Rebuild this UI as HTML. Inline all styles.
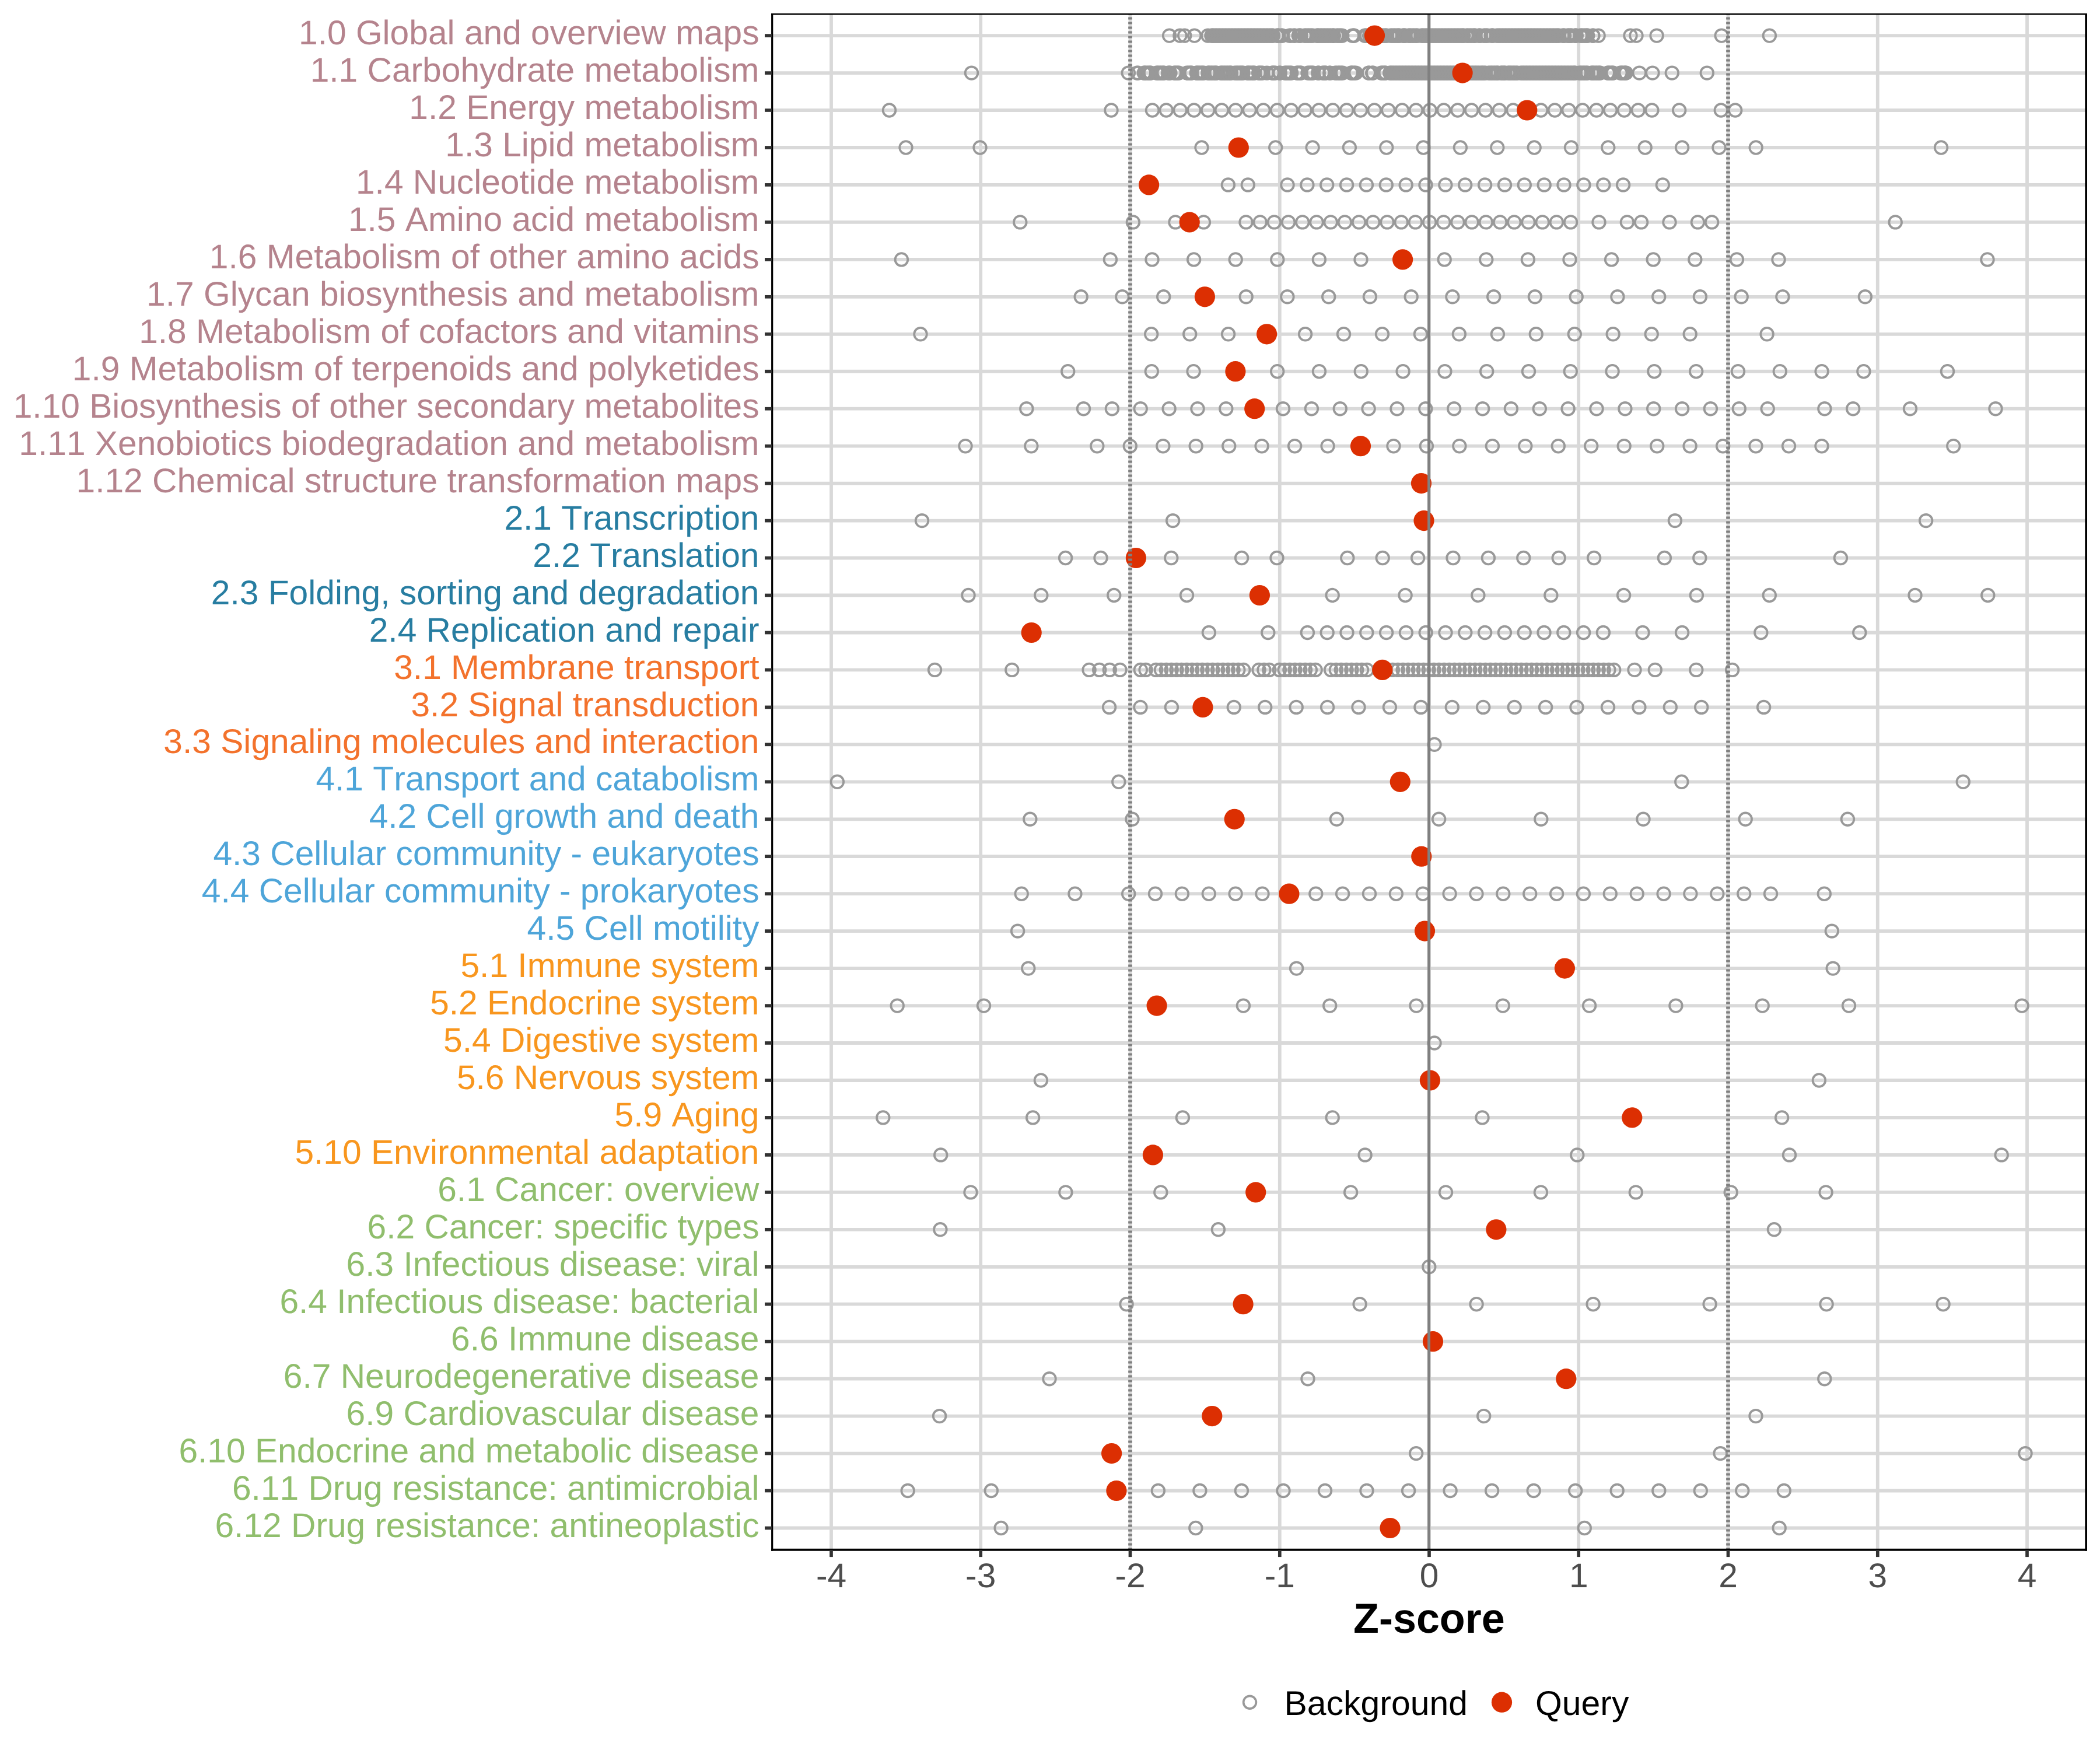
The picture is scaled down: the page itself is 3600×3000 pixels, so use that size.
<!DOCTYPE html>
<html lang="en"><head><meta charset="utf-8"><title>Z-score by KEGG pathway class</title>
<style>
html,body{margin:0;padding:0;background:#fff}
body{width:3600px;height:3000px;overflow:hidden}
svg{display:block}
text{font-family:"Liberation Sans",sans-serif;font-kerning:none;font-variant-ligatures:none;text-rendering:geometricPrecision}
.yl{font-size:58.70px;text-anchor:end}
.xl{font-size:58.70px;text-anchor:middle;fill:#4D4D4D}
.ti{font-size:71.90px;font-weight:bold;text-anchor:middle;fill:#000}
.lg{font-size:58.90px;fill:#000}
.g circle{fill:none;stroke:#999999;stroke-width:3.75}
.q circle{fill:#DC2F02}
.gr line{stroke:#D9D9D9;stroke-width:5.8}
.tk line{stroke:#333333;stroke-width:5.7}
</style></head><body>
<svg width="3600" height="3000" viewBox="0 0 3600 3000">
<rect x="0" y="0" width="3600" height="3000" fill="#FFFFFF"/>
<defs><clipPath id="pc"><rect x="1322.1" y="23" width="2255.9" height="2635.7"/></clipPath></defs>
<g>
<text class="yl" x="1301.5" y="76.2" fill="#B5838D">1.0 Global and overview maps</text>
<text class="yl" x="1301.5" y="140.2" fill="#B5838D">1.1 Carbohydrate metabolism</text>
<text class="yl" x="1301.5" y="204.1" fill="#B5838D">1.2 Energy metabolism</text>
<text class="yl" x="1301.5" y="268.1" fill="#B5838D">1.3 Lipid metabolism</text>
<text class="yl" x="1301.5" y="332" fill="#B5838D">1.4 Nucleotide metabolism</text>
<text class="yl" x="1301.5" y="396" fill="#B5838D">1.5 Amino acid metabolism</text>
<text class="yl" x="1301.5" y="460" fill="#B5838D">1.6 Metabolism of other amino acids</text>
<text class="yl" x="1301.5" y="523.9" fill="#B5838D">1.7 Glycan biosynthesis and metabolism</text>
<text class="yl" x="1301.5" y="587.9" fill="#B5838D">1.8 Metabolism of cofactors and vitamins</text>
<text class="yl" x="1301.5" y="651.8" fill="#B5838D">1.9 Metabolism of terpenoids and polyketides</text>
<text class="yl" x="1301.5" y="715.8" fill="#B5838D">1.10 Biosynthesis of other secondary metabolites</text>
<text class="yl" x="1301.5" y="779.8" fill="#B5838D">1.11 Xenobiotics biodegradation and metabolism</text>
<text class="yl" x="1301.5" y="843.7" fill="#B5838D">1.12 Chemical structure transformation maps</text>
<text class="yl" x="1301.5" y="907.7" fill="#277DA1">2.1 Transcription</text>
<text class="yl" x="1301.5" y="971.6" fill="#277DA1">2.2 Translation</text>
<text class="yl" x="1301.5" y="1035.6" fill="#277DA1">2.3 Folding, sorting and degradation</text>
<text class="yl" x="1301.5" y="1099.6" fill="#277DA1">2.4 Replication and repair</text>
<text class="yl" x="1301.5" y="1163.5" fill="#F3722C">3.1 Membrane transport</text>
<text class="yl" x="1301.5" y="1227.5" fill="#F3722C">3.2 Signal transduction</text>
<text class="yl" x="1301.5" y="1291.4" fill="#F3722C">3.3 Signaling molecules and interaction</text>
<text class="yl" x="1301.5" y="1355.4" fill="#4EA5D9">4.1 Transport and catabolism</text>
<text class="yl" x="1301.5" y="1419.4" fill="#4EA5D9">4.2 Cell growth and death</text>
<text class="yl" x="1301.5" y="1483.3" fill="#4EA5D9">4.3 Cellular community - eukaryotes</text>
<text class="yl" x="1301.5" y="1547.3" fill="#4EA5D9">4.4 Cellular community - prokaryotes</text>
<text class="yl" x="1301.5" y="1611.2" fill="#4EA5D9">4.5 Cell motility</text>
<text class="yl" x="1301.5" y="1675.2" fill="#F8961E">5.1 Immune system</text>
<text class="yl" x="1301.5" y="1739.2" fill="#F8961E">5.2 Endocrine system</text>
<text class="yl" x="1301.5" y="1803.1" fill="#F8961E">5.4 Digestive system</text>
<text class="yl" x="1301.5" y="1867.1" fill="#F8961E">5.6 Nervous system</text>
<text class="yl" x="1301.5" y="1931" fill="#F8961E">5.9 Aging</text>
<text class="yl" x="1301.5" y="1995" fill="#F8961E">5.10 Environmental adaptation</text>
<text class="yl" x="1301.5" y="2059" fill="#90BE6D">6.1 Cancer: overview</text>
<text class="yl" x="1301.5" y="2122.9" fill="#90BE6D">6.2 Cancer: specific types</text>
<text class="yl" x="1301.5" y="2186.9" fill="#90BE6D">6.3 Infectious disease: viral</text>
<text class="yl" x="1301.5" y="2250.8" fill="#90BE6D">6.4 Infectious disease: bacterial</text>
<text class="yl" x="1301.5" y="2314.8" fill="#90BE6D">6.6 Immune disease</text>
<text class="yl" x="1301.5" y="2378.8" fill="#90BE6D">6.7 Neurodegenerative disease</text>
<text class="yl" x="1301.5" y="2442.7" fill="#90BE6D">6.9 Cardiovascular disease</text>
<text class="yl" x="1301.5" y="2506.7" fill="#90BE6D">6.10 Endocrine and metabolic disease</text>
<text class="yl" x="1301.5" y="2570.6" fill="#90BE6D">6.11 Drug resistance: antimicrobial</text>
<text class="yl" x="1301.5" y="2634.6" fill="#90BE6D">6.12 Drug resistance: antineoplastic</text>
</g>
<g clip-path="url(#pc)">
<g class="gr">
<line x1="1425" y1="23" x2="1425" y2="2658.7"/>
<line x1="1681.2" y1="23" x2="1681.2" y2="2658.7"/>
<line x1="1937.5" y1="23" x2="1937.5" y2="2658.7"/>
<line x1="2193.8" y1="23" x2="2193.8" y2="2658.7"/>
<line x1="2450" y1="23" x2="2450" y2="2658.7"/>
<line x1="2706.2" y1="23" x2="2706.2" y2="2658.7"/>
<line x1="2962.5" y1="23" x2="2962.5" y2="2658.7"/>
<line x1="3218.8" y1="23" x2="3218.8" y2="2658.7"/>
<line x1="3475" y1="23" x2="3475" y2="2658.7"/>
<line x1="1322.1" y1="61.1" x2="3578" y2="61.1"/>
<line x1="1322.1" y1="125.1" x2="3578" y2="125.1"/>
<line x1="1322.1" y1="189" x2="3578" y2="189"/>
<line x1="1322.1" y1="253" x2="3578" y2="253"/>
<line x1="1322.1" y1="316.9" x2="3578" y2="316.9"/>
<line x1="1322.1" y1="380.9" x2="3578" y2="380.9"/>
<line x1="1322.1" y1="444.9" x2="3578" y2="444.9"/>
<line x1="1322.1" y1="508.8" x2="3578" y2="508.8"/>
<line x1="1322.1" y1="572.8" x2="3578" y2="572.8"/>
<line x1="1322.1" y1="636.7" x2="3578" y2="636.7"/>
<line x1="1322.1" y1="700.7" x2="3578" y2="700.7"/>
<line x1="1322.1" y1="764.7" x2="3578" y2="764.7"/>
<line x1="1322.1" y1="828.6" x2="3578" y2="828.6"/>
<line x1="1322.1" y1="892.6" x2="3578" y2="892.6"/>
<line x1="1322.1" y1="956.5" x2="3578" y2="956.5"/>
<line x1="1322.1" y1="1020.5" x2="3578" y2="1020.5"/>
<line x1="1322.1" y1="1084.5" x2="3578" y2="1084.5"/>
<line x1="1322.1" y1="1148.4" x2="3578" y2="1148.4"/>
<line x1="1322.1" y1="1212.4" x2="3578" y2="1212.4"/>
<line x1="1322.1" y1="1276.3" x2="3578" y2="1276.3"/>
<line x1="1322.1" y1="1340.3" x2="3578" y2="1340.3"/>
<line x1="1322.1" y1="1404.3" x2="3578" y2="1404.3"/>
<line x1="1322.1" y1="1468.2" x2="3578" y2="1468.2"/>
<line x1="1322.1" y1="1532.2" x2="3578" y2="1532.2"/>
<line x1="1322.1" y1="1596.1" x2="3578" y2="1596.1"/>
<line x1="1322.1" y1="1660.1" x2="3578" y2="1660.1"/>
<line x1="1322.1" y1="1724.1" x2="3578" y2="1724.1"/>
<line x1="1322.1" y1="1788" x2="3578" y2="1788"/>
<line x1="1322.1" y1="1852" x2="3578" y2="1852"/>
<line x1="1322.1" y1="1915.9" x2="3578" y2="1915.9"/>
<line x1="1322.1" y1="1979.9" x2="3578" y2="1979.9"/>
<line x1="1322.1" y1="2043.9" x2="3578" y2="2043.9"/>
<line x1="1322.1" y1="2107.8" x2="3578" y2="2107.8"/>
<line x1="1322.1" y1="2171.8" x2="3578" y2="2171.8"/>
<line x1="1322.1" y1="2235.7" x2="3578" y2="2235.7"/>
<line x1="1322.1" y1="2299.7" x2="3578" y2="2299.7"/>
<line x1="1322.1" y1="2363.7" x2="3578" y2="2363.7"/>
<line x1="1322.1" y1="2427.6" x2="3578" y2="2427.6"/>
<line x1="1322.1" y1="2491.6" x2="3578" y2="2491.6"/>
<line x1="1322.1" y1="2555.5" x2="3578" y2="2555.5"/>
<line x1="1322.1" y1="2619.5" x2="3578" y2="2619.5"/>
</g>
<g class="g">
<g><circle cx="2004.6" cy="61.1" r="10.83"/><circle cx="2022.9" cy="61.1" r="10.83"/><circle cx="2030.7" cy="61.1" r="10.83"/><circle cx="2047.6" cy="61.1" r="10.83"/><circle cx="2070.8" cy="61.1" r="10.83"/><circle cx="2076.9" cy="61.1" r="10.83"/><circle cx="2078.3" cy="61.1" r="10.83"/><circle cx="2080.8" cy="61.1" r="10.83"/><circle cx="2083.3" cy="61.1" r="10.83"/><circle cx="2085.8" cy="61.1" r="10.83"/><circle cx="2088.3" cy="61.1" r="10.83"/><circle cx="2090.8" cy="61.1" r="10.83"/><circle cx="2093.3" cy="61.1" r="10.83"/><circle cx="2095.8" cy="61.1" r="10.83"/><circle cx="2098.3" cy="61.1" r="10.83"/><circle cx="2100.8" cy="61.1" r="10.83"/><circle cx="2103.3" cy="61.1" r="10.83"/><circle cx="2105.8" cy="61.1" r="10.83"/><circle cx="2108.3" cy="61.1" r="10.83"/><circle cx="2110.8" cy="61.1" r="10.83"/><circle cx="2113.3" cy="61.1" r="10.83"/><circle cx="2115.8" cy="61.1" r="10.83"/><circle cx="2118.3" cy="61.1" r="10.83"/><circle cx="2120.8" cy="61.1" r="10.83"/><circle cx="2123.3" cy="61.1" r="10.83"/><circle cx="2125.8" cy="61.1" r="10.83"/><circle cx="2128.3" cy="61.1" r="10.83"/><circle cx="2130.8" cy="61.1" r="10.83"/><circle cx="2133.3" cy="61.1" r="10.83"/><circle cx="2135.8" cy="61.1" r="10.83"/><circle cx="2138.3" cy="61.1" r="10.83"/><circle cx="2140.8" cy="61.1" r="10.83"/><circle cx="2143.3" cy="61.1" r="10.83"/><circle cx="2145.8" cy="61.1" r="10.83"/><circle cx="2148.3" cy="61.1" r="10.83"/><circle cx="2150.8" cy="61.1" r="10.83"/><circle cx="2153.3" cy="61.1" r="10.83"/><circle cx="2155.8" cy="61.1" r="10.83"/><circle cx="2158.3" cy="61.1" r="10.83"/><circle cx="2160.8" cy="61.1" r="10.83"/><circle cx="2163.3" cy="61.1" r="10.83"/><circle cx="2165.8" cy="61.1" r="10.83"/><circle cx="2168.3" cy="61.1" r="10.83"/><circle cx="2170.8" cy="61.1" r="10.83"/><circle cx="2173.3" cy="61.1" r="10.83"/><circle cx="2175.8" cy="61.1" r="10.83"/><circle cx="2178.3" cy="61.1" r="10.83"/><circle cx="2180.8" cy="61.1" r="10.83"/><circle cx="2182.3" cy="61.1" r="10.83"/><circle cx="2189" cy="61.1" r="10.83"/><circle cx="2190.8" cy="61.1" r="10.83"/><circle cx="2191.6" cy="61.1" r="10.83"/><circle cx="2196.8" cy="61.1" r="10.83"/><circle cx="2198" cy="61.1" r="10.83"/><circle cx="2210.6" cy="61.1" r="10.83"/><circle cx="2213.2" cy="61.1" r="10.83"/><circle cx="2218.4" cy="61.1" r="10.83"/><circle cx="2219.6" cy="61.1" r="10.83"/><circle cx="2226.3" cy="61.1" r="10.83"/><circle cx="2228.3" cy="61.1" r="10.83"/><circle cx="2229.4" cy="61.1" r="10.83"/><circle cx="2236.1" cy="61.1" r="10.83"/><circle cx="2238.3" cy="61.1" r="10.83"/><circle cx="2240.8" cy="61.1" r="10.83"/><circle cx="2243.3" cy="61.1" r="10.83"/><circle cx="2245.8" cy="61.1" r="10.83"/><circle cx="2248.3" cy="61.1" r="10.83"/><circle cx="2250.8" cy="61.1" r="10.83"/><circle cx="2257.7" cy="61.1" r="10.83"/><circle cx="2258.3" cy="61.1" r="10.83"/><circle cx="2260.8" cy="61.1" r="10.83"/><circle cx="2263.3" cy="61.1" r="10.83"/><circle cx="2265.8" cy="61.1" r="10.83"/><circle cx="2268.3" cy="61.1" r="10.83"/><circle cx="2270.8" cy="61.1" r="10.83"/><circle cx="2273.3" cy="61.1" r="10.83"/><circle cx="2275.8" cy="61.1" r="10.83"/><circle cx="2278.3" cy="61.1" r="10.83"/><circle cx="2280.8" cy="61.1" r="10.83"/><circle cx="2283.3" cy="61.1" r="10.83"/><circle cx="2285.8" cy="61.1" r="10.83"/><circle cx="2286.3" cy="61.1" r="10.83"/><circle cx="2291.4" cy="61.1" r="10.83"/><circle cx="2293.3" cy="61.1" r="10.83"/><circle cx="2295.8" cy="61.1" r="10.83"/><circle cx="2298.3" cy="61.1" r="10.83"/><circle cx="2300.8" cy="61.1" r="10.83"/><circle cx="2318.2" cy="61.1" r="10.83"/><circle cx="2320.8" cy="61.1" r="10.83"/><circle cx="2321.2" cy="61.1" r="10.83"/><circle cx="2339.8" cy="61.1" r="10.83"/><circle cx="2340.8" cy="61.1" r="10.83"/><circle cx="2342.8" cy="61.1" r="10.83"/><circle cx="2347.7" cy="61.1" r="10.83"/><circle cx="2348.3" cy="61.1" r="10.83"/><circle cx="2350.8" cy="61.1" r="10.83"/><circle cx="2353.3" cy="61.1" r="10.83"/><circle cx="2355.8" cy="61.1" r="10.83"/><circle cx="2358.3" cy="61.1" r="10.83"/><circle cx="2360.8" cy="61.1" r="10.83"/><circle cx="2363.3" cy="61.1" r="10.83"/><circle cx="2365.8" cy="61.1" r="10.83"/><circle cx="2368.3" cy="61.1" r="10.83"/><circle cx="2370.8" cy="61.1" r="10.83"/><circle cx="2373.3" cy="61.1" r="10.83"/><circle cx="2375.8" cy="61.1" r="10.83"/><circle cx="2377" cy="61.1" r="10.83"/><circle cx="2383.2" cy="61.1" r="10.83"/><circle cx="2385.8" cy="61.1" r="10.83"/><circle cx="2388.3" cy="61.1" r="10.83"/><circle cx="2390.8" cy="61.1" r="10.83"/><circle cx="2393.3" cy="61.1" r="10.83"/><circle cx="2395.8" cy="61.1" r="10.83"/><circle cx="2398.3" cy="61.1" r="10.83"/><circle cx="2398.6" cy="61.1" r="10.83"/><circle cx="2404.8" cy="61.1" r="10.83"/><circle cx="2405.8" cy="61.1" r="10.83"/><circle cx="2408.3" cy="61.1" r="10.83"/><circle cx="2408.7" cy="61.1" r="10.83"/><circle cx="2414.7" cy="61.1" r="10.83"/><circle cx="2415.8" cy="61.1" r="10.83"/><circle cx="2418.3" cy="61.1" r="10.83"/><circle cx="2420.8" cy="61.1" r="10.83"/><circle cx="2423.3" cy="61.1" r="10.83"/><circle cx="2425.8" cy="61.1" r="10.83"/><circle cx="2428.3" cy="61.1" r="10.83"/><circle cx="2430.3" cy="61.1" r="10.83"/><circle cx="2436.3" cy="61.1" r="10.83"/><circle cx="2438.3" cy="61.1" r="10.83"/><circle cx="2440.8" cy="61.1" r="10.83"/><circle cx="2443.3" cy="61.1" r="10.83"/><circle cx="2445.8" cy="61.1" r="10.83"/><circle cx="2448.3" cy="61.1" r="10.83"/><circle cx="2450.8" cy="61.1" r="10.83"/><circle cx="2453.3" cy="61.1" r="10.83"/><circle cx="2455.8" cy="61.1" r="10.83"/><circle cx="2458.3" cy="61.1" r="10.83"/><circle cx="2460.8" cy="61.1" r="10.83"/><circle cx="2463.3" cy="61.1" r="10.83"/><circle cx="2465.8" cy="61.1" r="10.83"/><circle cx="2468.3" cy="61.1" r="10.83"/><circle cx="2470.8" cy="61.1" r="10.83"/><circle cx="2473.3" cy="61.1" r="10.83"/><circle cx="2475.8" cy="61.1" r="10.83"/><circle cx="2478.3" cy="61.1" r="10.83"/><circle cx="2480.8" cy="61.1" r="10.83"/><circle cx="2483.3" cy="61.1" r="10.83"/><circle cx="2485.8" cy="61.1" r="10.83"/><circle cx="2488.3" cy="61.1" r="10.83"/><circle cx="2490.8" cy="61.1" r="10.83"/><circle cx="2493.3" cy="61.1" r="10.83"/><circle cx="2495.8" cy="61.1" r="10.83"/><circle cx="2498.3" cy="61.1" r="10.83"/><circle cx="2500.8" cy="61.1" r="10.83"/><circle cx="2503.3" cy="61.1" r="10.83"/><circle cx="2505.8" cy="61.1" r="10.83"/><circle cx="2508.3" cy="61.1" r="10.83"/><circle cx="2508.8" cy="61.1" r="10.83"/><circle cx="2513.9" cy="61.1" r="10.83"/><circle cx="2515.8" cy="61.1" r="10.83"/><circle cx="2518.3" cy="61.1" r="10.83"/><circle cx="2520.8" cy="61.1" r="10.83"/><circle cx="2523.3" cy="61.1" r="10.83"/><circle cx="2525.8" cy="61.1" r="10.83"/><circle cx="2528.3" cy="61.1" r="10.83"/><circle cx="2528.7" cy="61.1" r="10.83"/><circle cx="2535.5" cy="61.1" r="10.83"/><circle cx="2535.8" cy="61.1" r="10.83"/><circle cx="2538" cy="61.1" r="10.83"/><circle cx="2544.2" cy="61.1" r="10.83"/><circle cx="2545.8" cy="61.1" r="10.83"/><circle cx="2548.3" cy="61.1" r="10.83"/><circle cx="2550.3" cy="61.1" r="10.83"/><circle cx="2556.3" cy="61.1" r="10.83"/><circle cx="2558.3" cy="61.1" r="10.83"/><circle cx="2559.6" cy="61.1" r="10.83"/><circle cx="2565.8" cy="61.1" r="10.83"/><circle cx="2568.3" cy="61.1" r="10.83"/><circle cx="2570.8" cy="61.1" r="10.83"/><circle cx="2573.3" cy="61.1" r="10.83"/><circle cx="2575.8" cy="61.1" r="10.83"/><circle cx="2578.3" cy="61.1" r="10.83"/><circle cx="2580.8" cy="61.1" r="10.83"/><circle cx="2583.3" cy="61.1" r="10.83"/><circle cx="2585.8" cy="61.1" r="10.83"/><circle cx="2588.3" cy="61.1" r="10.83"/><circle cx="2590.8" cy="61.1" r="10.83"/><circle cx="2593.3" cy="61.1" r="10.83"/><circle cx="2595.8" cy="61.1" r="10.83"/><circle cx="2598.3" cy="61.1" r="10.83"/><circle cx="2600.8" cy="61.1" r="10.83"/><circle cx="2603.3" cy="61.1" r="10.83"/><circle cx="2605.8" cy="61.1" r="10.83"/><circle cx="2608.3" cy="61.1" r="10.83"/><circle cx="2610.8" cy="61.1" r="10.83"/><circle cx="2613.3" cy="61.1" r="10.83"/><circle cx="2615.8" cy="61.1" r="10.83"/><circle cx="2618.3" cy="61.1" r="10.83"/><circle cx="2620.8" cy="61.1" r="10.83"/><circle cx="2623.3" cy="61.1" r="10.83"/><circle cx="2625.8" cy="61.1" r="10.83"/><circle cx="2628.3" cy="61.1" r="10.83"/><circle cx="2630.8" cy="61.1" r="10.83"/><circle cx="2633.3" cy="61.1" r="10.83"/><circle cx="2635.8" cy="61.1" r="10.83"/><circle cx="2638.3" cy="61.1" r="10.83"/><circle cx="2640.8" cy="61.1" r="10.83"/><circle cx="2643.3" cy="61.1" r="10.83"/><circle cx="2645.8" cy="61.1" r="10.83"/><circle cx="2648.3" cy="61.1" r="10.83"/><circle cx="2650.8" cy="61.1" r="10.83"/><circle cx="2653.3" cy="61.1" r="10.83"/><circle cx="2655.8" cy="61.1" r="10.83"/><circle cx="2658.3" cy="61.1" r="10.83"/><circle cx="2660.8" cy="61.1" r="10.83"/><circle cx="2663.3" cy="61.1" r="10.83"/><circle cx="2665.8" cy="61.1" r="10.83"/><circle cx="2668.3" cy="61.1" r="10.83"/><circle cx="2670.8" cy="61.1" r="10.83"/><circle cx="2672.3" cy="61.1" r="10.83"/><circle cx="2678.2" cy="61.1" r="10.83"/><circle cx="2680.8" cy="61.1" r="10.83"/><circle cx="2681.6" cy="61.1" r="10.83"/><circle cx="2687.5" cy="61.1" r="10.83"/><circle cx="2688.3" cy="61.1" r="10.83"/><circle cx="2690.8" cy="61.1" r="10.83"/><circle cx="2693.3" cy="61.1" r="10.83"/><circle cx="2693.9" cy="61.1" r="10.83"/><circle cx="2699.8" cy="61.1" r="10.83"/><circle cx="2700.8" cy="61.1" r="10.83"/><circle cx="2702.3" cy="61.1" r="10.83"/><circle cx="2709.1" cy="61.1" r="10.83"/><circle cx="2710.8" cy="61.1" r="10.83"/><circle cx="2713.3" cy="61.1" r="10.83"/><circle cx="2715.8" cy="61.1" r="10.83"/><circle cx="2718.3" cy="61.1" r="10.83"/><circle cx="2720.8" cy="61.1" r="10.83"/><circle cx="2721.6" cy="61.1" r="10.83"/><circle cx="2730.6" cy="61.1" r="10.83"/><circle cx="2730.9" cy="61.1" r="10.83"/><circle cx="2740.1" cy="61.1" r="10.83"/><circle cx="2795" cy="61.1" r="10.83"/><circle cx="2805" cy="61.1" r="10.83"/><circle cx="2840.1" cy="61.1" r="10.83"/><circle cx="2951.2" cy="61.1" r="10.83"/><circle cx="3033.4" cy="61.1" r="10.83"/></g>
<g><circle cx="1665.5" cy="125.1" r="10.83"/><circle cx="1934.3" cy="125.1" r="10.83"/><circle cx="1949.3" cy="125.1" r="10.83"/><circle cx="1950.9" cy="125.1" r="10.83"/><circle cx="1961.3" cy="125.1" r="10.83"/><circle cx="1961.8" cy="125.1" r="10.83"/><circle cx="1964.3" cy="125.1" r="10.83"/><circle cx="1966.8" cy="125.1" r="10.83"/><circle cx="1969.3" cy="125.1" r="10.83"/><circle cx="1971.8" cy="125.1" r="10.83"/><circle cx="1972.5" cy="125.1" r="10.83"/><circle cx="1982.7" cy="125.1" r="10.83"/><circle cx="1984.3" cy="125.1" r="10.83"/><circle cx="1986.8" cy="125.1" r="10.83"/><circle cx="1989.3" cy="125.1" r="10.83"/><circle cx="1991.8" cy="125.1" r="10.83"/><circle cx="1994.3" cy="125.1" r="10.83"/><circle cx="1995.4" cy="125.1" r="10.83"/><circle cx="2002.7" cy="125.1" r="10.83"/><circle cx="2004.3" cy="125.1" r="10.83"/><circle cx="2005.9" cy="125.1" r="10.83"/><circle cx="2013.1" cy="125.1" r="10.83"/><circle cx="2014.3" cy="125.1" r="10.83"/><circle cx="2016.8" cy="125.1" r="10.83"/><circle cx="2019.3" cy="125.1" r="10.83"/><circle cx="2020.9" cy="125.1" r="10.83"/><circle cx="2034.8" cy="125.1" r="10.83"/><circle cx="2036.8" cy="125.1" r="10.83"/><circle cx="2039.3" cy="125.1" r="10.83"/><circle cx="2041.8" cy="125.1" r="10.83"/><circle cx="2042.5" cy="125.1" r="10.83"/><circle cx="2051.3" cy="125.1" r="10.83"/><circle cx="2051.8" cy="125.1" r="10.83"/><circle cx="2054.3" cy="125.1" r="10.83"/><circle cx="2056.8" cy="125.1" r="10.83"/><circle cx="2059.3" cy="125.1" r="10.83"/><circle cx="2061.8" cy="125.1" r="10.83"/><circle cx="2063.7" cy="125.1" r="10.83"/><circle cx="2071.1" cy="125.1" r="10.83"/><circle cx="2071.8" cy="125.1" r="10.83"/><circle cx="2074.3" cy="125.1" r="10.83"/><circle cx="2076.8" cy="125.1" r="10.83"/><circle cx="2079.3" cy="125.1" r="10.83"/><circle cx="2081.8" cy="125.1" r="10.83"/><circle cx="2084.3" cy="125.1" r="10.83"/><circle cx="2085.3" cy="125.1" r="10.83"/><circle cx="2092.7" cy="125.1" r="10.83"/><circle cx="2094.3" cy="125.1" r="10.83"/><circle cx="2096.8" cy="125.1" r="10.83"/><circle cx="2099.3" cy="125.1" r="10.83"/><circle cx="2101.8" cy="125.1" r="10.83"/><circle cx="2104.3" cy="125.1" r="10.83"/><circle cx="2106.8" cy="125.1" r="10.83"/><circle cx="2109.3" cy="125.1" r="10.83"/><circle cx="2110.2" cy="125.1" r="10.83"/><circle cx="2116.8" cy="125.1" r="10.83"/><circle cx="2119.3" cy="125.1" r="10.83"/><circle cx="2121.8" cy="125.1" r="10.83"/><circle cx="2124.3" cy="125.1" r="10.83"/><circle cx="2126.8" cy="125.1" r="10.83"/><circle cx="2129.3" cy="125.1" r="10.83"/><circle cx="2130.9" cy="125.1" r="10.83"/><circle cx="2138.4" cy="125.1" r="10.83"/><circle cx="2139.3" cy="125.1" r="10.83"/><circle cx="2141.8" cy="125.1" r="10.83"/><circle cx="2144.3" cy="125.1" r="10.83"/><circle cx="2146.8" cy="125.1" r="10.83"/><circle cx="2149.3" cy="125.1" r="10.83"/><circle cx="2150.2" cy="125.1" r="10.83"/><circle cx="2157.7" cy="125.1" r="10.83"/><circle cx="2159.3" cy="125.1" r="10.83"/><circle cx="2161.8" cy="125.1" r="10.83"/><circle cx="2164.3" cy="125.1" r="10.83"/><circle cx="2171.8" cy="125.1" r="10.83"/><circle cx="2181.1" cy="125.1" r="10.83"/><circle cx="2181.8" cy="125.1" r="10.83"/><circle cx="2184.3" cy="125.1" r="10.83"/><circle cx="2186" cy="125.1" r="10.83"/><circle cx="2193.4" cy="125.1" r="10.83"/><circle cx="2194.3" cy="125.1" r="10.83"/><circle cx="2202.7" cy="125.1" r="10.83"/><circle cx="2204.3" cy="125.1" r="10.83"/><circle cx="2206.8" cy="125.1" r="10.83"/><circle cx="2209.3" cy="125.1" r="10.83"/><circle cx="2211.8" cy="125.1" r="10.83"/><circle cx="2213.7" cy="125.1" r="10.83"/><circle cx="2223.4" cy="125.1" r="10.83"/><circle cx="2224.3" cy="125.1" r="10.83"/><circle cx="2226.8" cy="125.1" r="10.83"/><circle cx="2229.3" cy="125.1" r="10.83"/><circle cx="2230.2" cy="125.1" r="10.83"/><circle cx="2242" cy="125.1" r="10.83"/><circle cx="2244.3" cy="125.1" r="10.83"/><circle cx="2246.8" cy="125.1" r="10.83"/><circle cx="2249.3" cy="125.1" r="10.83"/><circle cx="2250.9" cy="125.1" r="10.83"/><circle cx="2259.8" cy="125.1" r="10.83"/><circle cx="2260.2" cy="125.1" r="10.83"/><circle cx="2267.5" cy="125.1" r="10.83"/><circle cx="2269.3" cy="125.1" r="10.83"/><circle cx="2271.8" cy="125.1" r="10.83"/><circle cx="2272.5" cy="125.1" r="10.83"/><circle cx="2279.8" cy="125.1" r="10.83"/><circle cx="2280.4" cy="125.1" r="10.83"/><circle cx="2289.1" cy="125.1" r="10.83"/><circle cx="2291.8" cy="125.1" r="10.83"/><circle cx="2294.3" cy="125.1" r="10.83"/><circle cx="2296.8" cy="125.1" r="10.83"/><circle cx="2299.3" cy="125.1" r="10.83"/><circle cx="2301.8" cy="125.1" r="10.83"/><circle cx="2316.1" cy="125.1" r="10.83"/><circle cx="2316.8" cy="125.1" r="10.83"/><circle cx="2319.3" cy="125.1" r="10.83"/><circle cx="2321.8" cy="125.1" r="10.83"/><circle cx="2324.3" cy="125.1" r="10.83"/><circle cx="2346.1" cy="125.1" r="10.83"/><circle cx="2346.8" cy="125.1" r="10.83"/><circle cx="2352.7" cy="125.1" r="10.83"/><circle cx="2353.7" cy="125.1" r="10.83"/><circle cx="2367.7" cy="125.1" r="10.83"/><circle cx="2369.3" cy="125.1" r="10.83"/><circle cx="2371.8" cy="125.1" r="10.83"/><circle cx="2374.3" cy="125.1" r="10.83"/><circle cx="2375.3" cy="125.1" r="10.83"/><circle cx="2382.7" cy="125.1" r="10.83"/><circle cx="2384.3" cy="125.1" r="10.83"/><circle cx="2386.8" cy="125.1" r="10.83"/><circle cx="2389.3" cy="125.1" r="10.83"/><circle cx="2391.8" cy="125.1" r="10.83"/><circle cx="2394.3" cy="125.1" r="10.83"/><circle cx="2396.8" cy="125.1" r="10.83"/><circle cx="2399.3" cy="125.1" r="10.83"/><circle cx="2401.8" cy="125.1" r="10.83"/><circle cx="2404.3" cy="125.1" r="10.83"/><circle cx="2406.8" cy="125.1" r="10.83"/><circle cx="2409.3" cy="125.1" r="10.83"/><circle cx="2411.8" cy="125.1" r="10.83"/><circle cx="2414.3" cy="125.1" r="10.83"/><circle cx="2416.8" cy="125.1" r="10.83"/><circle cx="2419.3" cy="125.1" r="10.83"/><circle cx="2421.8" cy="125.1" r="10.83"/><circle cx="2424.3" cy="125.1" r="10.83"/><circle cx="2426.8" cy="125.1" r="10.83"/><circle cx="2429.3" cy="125.1" r="10.83"/><circle cx="2431.8" cy="125.1" r="10.83"/><circle cx="2434.3" cy="125.1" r="10.83"/><circle cx="2436.8" cy="125.1" r="10.83"/><circle cx="2439.3" cy="125.1" r="10.83"/><circle cx="2441.8" cy="125.1" r="10.83"/><circle cx="2444.3" cy="125.1" r="10.83"/><circle cx="2446.8" cy="125.1" r="10.83"/><circle cx="2449.3" cy="125.1" r="10.83"/><circle cx="2451.8" cy="125.1" r="10.83"/><circle cx="2454.3" cy="125.1" r="10.83"/><circle cx="2456.8" cy="125.1" r="10.83"/><circle cx="2459.3" cy="125.1" r="10.83"/><circle cx="2461.8" cy="125.1" r="10.83"/><circle cx="2464.3" cy="125.1" r="10.83"/><circle cx="2466.8" cy="125.1" r="10.83"/><circle cx="2469.3" cy="125.1" r="10.83"/><circle cx="2471.8" cy="125.1" r="10.83"/><circle cx="2474.3" cy="125.1" r="10.83"/><circle cx="2476.8" cy="125.1" r="10.83"/><circle cx="2479.3" cy="125.1" r="10.83"/><circle cx="2481.8" cy="125.1" r="10.83"/><circle cx="2484.3" cy="125.1" r="10.83"/><circle cx="2486.8" cy="125.1" r="10.83"/><circle cx="2489.3" cy="125.1" r="10.83"/><circle cx="2491.8" cy="125.1" r="10.83"/><circle cx="2494.3" cy="125.1" r="10.83"/><circle cx="2496.8" cy="125.1" r="10.83"/><circle cx="2499.3" cy="125.1" r="10.83"/><circle cx="2501.8" cy="125.1" r="10.83"/><circle cx="2504.3" cy="125.1" r="10.83"/><circle cx="2506.8" cy="125.1" r="10.83"/><circle cx="2509.3" cy="125.1" r="10.83"/><circle cx="2511.8" cy="125.1" r="10.83"/><circle cx="2514.3" cy="125.1" r="10.83"/><circle cx="2516.8" cy="125.1" r="10.83"/><circle cx="2519.3" cy="125.1" r="10.83"/><circle cx="2521.8" cy="125.1" r="10.83"/><circle cx="2524.3" cy="125.1" r="10.83"/><circle cx="2526.8" cy="125.1" r="10.83"/><circle cx="2529.3" cy="125.1" r="10.83"/><circle cx="2531.8" cy="125.1" r="10.83"/><circle cx="2534.3" cy="125.1" r="10.83"/><circle cx="2536.8" cy="125.1" r="10.83"/><circle cx="2539.3" cy="125.1" r="10.83"/><circle cx="2541.8" cy="125.1" r="10.83"/><circle cx="2544.3" cy="125.1" r="10.83"/><circle cx="2546.2" cy="125.1" r="10.83"/><circle cx="2551.8" cy="125.1" r="10.83"/><circle cx="2554.3" cy="125.1" r="10.83"/><circle cx="2556.8" cy="125.1" r="10.83"/><circle cx="2559.3" cy="125.1" r="10.83"/><circle cx="2561.8" cy="125.1" r="10.83"/><circle cx="2564.3" cy="125.1" r="10.83"/><circle cx="2566.8" cy="125.1" r="10.83"/><circle cx="2567.8" cy="125.1" r="10.83"/><circle cx="2573.4" cy="125.1" r="10.83"/><circle cx="2574.3" cy="125.1" r="10.83"/><circle cx="2576.8" cy="125.1" r="10.83"/><circle cx="2579.3" cy="125.1" r="10.83"/><circle cx="2579.9" cy="125.1" r="10.83"/><circle cx="2585.4" cy="125.1" r="10.83"/><circle cx="2586.8" cy="125.1" r="10.83"/><circle cx="2589.3" cy="125.1" r="10.83"/><circle cx="2591.8" cy="125.1" r="10.83"/><circle cx="2594.3" cy="125.1" r="10.83"/><circle cx="2596.8" cy="125.1" r="10.83"/><circle cx="2599.3" cy="125.1" r="10.83"/><circle cx="2601.5" cy="125.1" r="10.83"/><circle cx="2607" cy="125.1" r="10.83"/><circle cx="2609.3" cy="125.1" r="10.83"/><circle cx="2611.8" cy="125.1" r="10.83"/><circle cx="2614.3" cy="125.1" r="10.83"/><circle cx="2616.8" cy="125.1" r="10.83"/><circle cx="2619.3" cy="125.1" r="10.83"/><circle cx="2621.8" cy="125.1" r="10.83"/><circle cx="2624.3" cy="125.1" r="10.83"/><circle cx="2626.8" cy="125.1" r="10.83"/><circle cx="2629.3" cy="125.1" r="10.83"/><circle cx="2631.8" cy="125.1" r="10.83"/><circle cx="2634.3" cy="125.1" r="10.83"/><circle cx="2636.8" cy="125.1" r="10.83"/><circle cx="2639.3" cy="125.1" r="10.83"/><circle cx="2641.8" cy="125.1" r="10.83"/><circle cx="2644.3" cy="125.1" r="10.83"/><circle cx="2646.8" cy="125.1" r="10.83"/><circle cx="2649.3" cy="125.1" r="10.83"/><circle cx="2651.8" cy="125.1" r="10.83"/><circle cx="2654.3" cy="125.1" r="10.83"/><circle cx="2656.8" cy="125.1" r="10.83"/><circle cx="2659.3" cy="125.1" r="10.83"/><circle cx="2661.8" cy="125.1" r="10.83"/><circle cx="2664.3" cy="125.1" r="10.83"/><circle cx="2666.8" cy="125.1" r="10.83"/><circle cx="2669.3" cy="125.1" r="10.83"/><circle cx="2671.8" cy="125.1" r="10.83"/><circle cx="2674.3" cy="125.1" r="10.83"/><circle cx="2676.8" cy="125.1" r="10.83"/><circle cx="2679.3" cy="125.1" r="10.83"/><circle cx="2681.8" cy="125.1" r="10.83"/><circle cx="2684.3" cy="125.1" r="10.83"/><circle cx="2686.8" cy="125.1" r="10.83"/><circle cx="2689.3" cy="125.1" r="10.83"/><circle cx="2691.8" cy="125.1" r="10.83"/><circle cx="2694.3" cy="125.1" r="10.83"/><circle cx="2696.8" cy="125.1" r="10.83"/><circle cx="2699.3" cy="125.1" r="10.83"/><circle cx="2700.2" cy="125.1" r="10.83"/><circle cx="2707.1" cy="125.1" r="10.83"/><circle cx="2709.3" cy="125.1" r="10.83"/><circle cx="2711.8" cy="125.1" r="10.83"/><circle cx="2714.3" cy="125.1" r="10.83"/><circle cx="2716.8" cy="125.1" r="10.83"/><circle cx="2719.3" cy="125.1" r="10.83"/><circle cx="2721.6" cy="125.1" r="10.83"/><circle cx="2728.7" cy="125.1" r="10.83"/><circle cx="2729.3" cy="125.1" r="10.83"/><circle cx="2731.8" cy="125.1" r="10.83"/><circle cx="2734.3" cy="125.1" r="10.83"/><circle cx="2736.8" cy="125.1" r="10.83"/><circle cx="2739.3" cy="125.1" r="10.83"/><circle cx="2741.8" cy="125.1" r="10.83"/><circle cx="2743.2" cy="125.1" r="10.83"/><circle cx="2756.1" cy="125.1" r="10.83"/><circle cx="2756.8" cy="125.1" r="10.83"/><circle cx="2759.3" cy="125.1" r="10.83"/><circle cx="2761.8" cy="125.1" r="10.83"/><circle cx="2764.3" cy="125.1" r="10.83"/><circle cx="2765.3" cy="125.1" r="10.83"/><circle cx="2777.7" cy="125.1" r="10.83"/><circle cx="2779.3" cy="125.1" r="10.83"/><circle cx="2781.8" cy="125.1" r="10.83"/><circle cx="2784.3" cy="125.1" r="10.83"/><circle cx="2786.8" cy="125.1" r="10.83"/><circle cx="2787.3" cy="125.1" r="10.83"/><circle cx="2810.3" cy="125.1" r="10.83"/><circle cx="2832.9" cy="125.1" r="10.83"/><circle cx="2866.3" cy="125.1" r="10.83"/><circle cx="2926.3" cy="125.1" r="10.83"/></g>
<g><circle cx="1524.5" cy="189" r="10.83"/><circle cx="1905" cy="189" r="10.83"/><circle cx="1975.5" cy="189" r="10.83"/><circle cx="1999.3" cy="189" r="10.83"/><circle cx="2023.1" cy="189" r="10.83"/><circle cx="2046.9" cy="189" r="10.83"/><circle cx="2070.7" cy="189" r="10.83"/><circle cx="2094.4" cy="189" r="10.83"/><circle cx="2118.2" cy="189" r="10.83"/><circle cx="2142" cy="189" r="10.83"/><circle cx="2165.8" cy="189" r="10.83"/><circle cx="2189.6" cy="189" r="10.83"/><circle cx="2213.4" cy="189" r="10.83"/><circle cx="2237.2" cy="189" r="10.83"/><circle cx="2261" cy="189" r="10.83"/><circle cx="2284.8" cy="189" r="10.83"/><circle cx="2308.6" cy="189" r="10.83"/><circle cx="2332.3" cy="189" r="10.83"/><circle cx="2356.1" cy="189" r="10.83"/><circle cx="2379.9" cy="189" r="10.83"/><circle cx="2403.7" cy="189" r="10.83"/><circle cx="2427.5" cy="189" r="10.83"/><circle cx="2451.3" cy="189" r="10.83"/><circle cx="2475.1" cy="189" r="10.83"/><circle cx="2498.9" cy="189" r="10.83"/><circle cx="2522.7" cy="189" r="10.83"/><circle cx="2546.5" cy="189" r="10.83"/><circle cx="2570.2" cy="189" r="10.83"/><circle cx="2594" cy="189" r="10.83"/><circle cx="2617.8" cy="189" r="10.83"/><circle cx="2641.6" cy="189" r="10.83"/><circle cx="2665.4" cy="189" r="10.83"/><circle cx="2689.2" cy="189" r="10.83"/><circle cx="2713" cy="189" r="10.83"/><circle cx="2736.8" cy="189" r="10.83"/><circle cx="2760.6" cy="189" r="10.83"/><circle cx="2784.4" cy="189" r="10.83"/><circle cx="2808.2" cy="189" r="10.83"/><circle cx="2831.9" cy="189" r="10.83"/><circle cx="2878.7" cy="189" r="10.83"/><circle cx="2950.3" cy="189" r="10.83"/><circle cx="2974.7" cy="189" r="10.83"/></g>
<g><circle cx="1553" cy="253" r="10.83"/><circle cx="1680" cy="253" r="10.83"/><circle cx="2060" cy="253" r="10.83"/><circle cx="2186.7" cy="253" r="10.83"/><circle cx="2250.1" cy="253" r="10.83"/><circle cx="2313.4" cy="253" r="10.83"/><circle cx="2376.8" cy="253" r="10.83"/><circle cx="2440.1" cy="253" r="10.83"/><circle cx="2503.4" cy="253" r="10.83"/><circle cx="2566.8" cy="253" r="10.83"/><circle cx="2630.2" cy="253" r="10.83"/><circle cx="2693.5" cy="253" r="10.83"/><circle cx="2756.8" cy="253" r="10.83"/><circle cx="2820.2" cy="253" r="10.83"/><circle cx="2883.6" cy="253" r="10.83"/><circle cx="2946.9" cy="253" r="10.83"/><circle cx="3010.2" cy="253" r="10.83"/><circle cx="3327.6" cy="253" r="10.83"/></g>
<g><circle cx="2105.4" cy="316.9" r="10.83"/><circle cx="2139.3" cy="316.9" r="10.83"/><circle cx="2207" cy="316.9" r="10.83"/><circle cx="2240.9" cy="316.9" r="10.83"/><circle cx="2274.7" cy="316.9" r="10.83"/><circle cx="2308.6" cy="316.9" r="10.83"/><circle cx="2342.4" cy="316.9" r="10.83"/><circle cx="2376.3" cy="316.9" r="10.83"/><circle cx="2410.2" cy="316.9" r="10.83"/><circle cx="2444" cy="316.9" r="10.83"/><circle cx="2477.9" cy="316.9" r="10.83"/><circle cx="2511.7" cy="316.9" r="10.83"/><circle cx="2545.6" cy="316.9" r="10.83"/><circle cx="2579.5" cy="316.9" r="10.83"/><circle cx="2613.3" cy="316.9" r="10.83"/><circle cx="2647.2" cy="316.9" r="10.83"/><circle cx="2681" cy="316.9" r="10.83"/><circle cx="2714.9" cy="316.9" r="10.83"/><circle cx="2748.8" cy="316.9" r="10.83"/><circle cx="2782.6" cy="316.9" r="10.83"/><circle cx="2850.3" cy="316.9" r="10.83"/></g>
<g><circle cx="1748.8" cy="380.9" r="10.83"/><circle cx="1942.4" cy="380.9" r="10.83"/><circle cx="2015" cy="380.9" r="10.83"/><circle cx="2063.4" cy="380.9" r="10.83"/><circle cx="2136" cy="380.9" r="10.83"/><circle cx="2160.2" cy="380.9" r="10.83"/><circle cx="2184.4" cy="380.9" r="10.83"/><circle cx="2208.6" cy="380.9" r="10.83"/><circle cx="2232.8" cy="380.9" r="10.83"/><circle cx="2257" cy="380.9" r="10.83"/><circle cx="2281.2" cy="380.9" r="10.83"/><circle cx="2305.4" cy="380.9" r="10.83"/><circle cx="2329.6" cy="380.9" r="10.83"/><circle cx="2353.8" cy="380.9" r="10.83"/><circle cx="2378" cy="380.9" r="10.83"/><circle cx="2402.2" cy="380.9" r="10.83"/><circle cx="2426.4" cy="380.9" r="10.83"/><circle cx="2450.6" cy="380.9" r="10.83"/><circle cx="2474.8" cy="380.9" r="10.83"/><circle cx="2499" cy="380.9" r="10.83"/><circle cx="2523.2" cy="380.9" r="10.83"/><circle cx="2547.4" cy="380.9" r="10.83"/><circle cx="2571.6" cy="380.9" r="10.83"/><circle cx="2595.8" cy="380.9" r="10.83"/><circle cx="2620" cy="380.9" r="10.83"/><circle cx="2644.2" cy="380.9" r="10.83"/><circle cx="2668.4" cy="380.9" r="10.83"/><circle cx="2692.6" cy="380.9" r="10.83"/><circle cx="2741" cy="380.9" r="10.83"/><circle cx="2789.4" cy="380.9" r="10.83"/><circle cx="2813.6" cy="380.9" r="10.83"/><circle cx="2862" cy="380.9" r="10.83"/><circle cx="2910.4" cy="380.9" r="10.83"/><circle cx="2934.6" cy="380.9" r="10.83"/><circle cx="3249.2" cy="380.9" r="10.83"/></g>
<g><circle cx="1545.4" cy="444.9" r="10.83"/><circle cx="1903.4" cy="444.9" r="10.83"/><circle cx="1975" cy="444.9" r="10.83"/><circle cx="2046.6" cy="444.9" r="10.83"/><circle cx="2118.2" cy="444.9" r="10.83"/><circle cx="2189.8" cy="444.9" r="10.83"/><circle cx="2261.4" cy="444.9" r="10.83"/><circle cx="2333" cy="444.9" r="10.83"/><circle cx="2476.2" cy="444.9" r="10.83"/><circle cx="2547.8" cy="444.9" r="10.83"/><circle cx="2619.4" cy="444.9" r="10.83"/><circle cx="2691" cy="444.9" r="10.83"/><circle cx="2762.6" cy="444.9" r="10.83"/><circle cx="2834.2" cy="444.9" r="10.83"/><circle cx="2905.8" cy="444.9" r="10.83"/><circle cx="2977.4" cy="444.9" r="10.83"/><circle cx="3049" cy="444.9" r="10.83"/><circle cx="3407" cy="444.9" r="10.83"/></g>
<g><circle cx="1853.2" cy="508.8" r="10.83"/><circle cx="1923.9" cy="508.8" r="10.83"/><circle cx="1994.7" cy="508.8" r="10.83"/><circle cx="2136.2" cy="508.8" r="10.83"/><circle cx="2206.9" cy="508.8" r="10.83"/><circle cx="2277.7" cy="508.8" r="10.83"/><circle cx="2348.4" cy="508.8" r="10.83"/><circle cx="2419.2" cy="508.8" r="10.83"/><circle cx="2489.9" cy="508.8" r="10.83"/><circle cx="2560.7" cy="508.8" r="10.83"/><circle cx="2631.4" cy="508.8" r="10.83"/><circle cx="2702.2" cy="508.8" r="10.83"/><circle cx="2772.9" cy="508.8" r="10.83"/><circle cx="2843.7" cy="508.8" r="10.83"/><circle cx="2914.4" cy="508.8" r="10.83"/><circle cx="2985.2" cy="508.8" r="10.83"/><circle cx="3055.9" cy="508.8" r="10.83"/><circle cx="3197.4" cy="508.8" r="10.83"/></g>
<g><circle cx="1578" cy="572.8" r="10.83"/><circle cx="1973.7" cy="572.8" r="10.83"/><circle cx="2039.7" cy="572.8" r="10.83"/><circle cx="2105.6" cy="572.8" r="10.83"/><circle cx="2237.6" cy="572.8" r="10.83"/><circle cx="2303.5" cy="572.8" r="10.83"/><circle cx="2369.5" cy="572.8" r="10.83"/><circle cx="2435.4" cy="572.8" r="10.83"/><circle cx="2501.4" cy="572.8" r="10.83"/><circle cx="2567.4" cy="572.8" r="10.83"/><circle cx="2633.3" cy="572.8" r="10.83"/><circle cx="2699.3" cy="572.8" r="10.83"/><circle cx="2765.2" cy="572.8" r="10.83"/><circle cx="2831.2" cy="572.8" r="10.83"/><circle cx="2897.2" cy="572.8" r="10.83"/><circle cx="3029.1" cy="572.8" r="10.83"/></g>
<g><circle cx="1830.7" cy="636.7" r="10.83"/><circle cx="1974.3" cy="636.7" r="10.83"/><circle cx="2046.1" cy="636.7" r="10.83"/><circle cx="2189.7" cy="636.7" r="10.83"/><circle cx="2261.5" cy="636.7" r="10.83"/><circle cx="2333.3" cy="636.7" r="10.83"/><circle cx="2405.1" cy="636.7" r="10.83"/><circle cx="2476.9" cy="636.7" r="10.83"/><circle cx="2548.7" cy="636.7" r="10.83"/><circle cx="2620.5" cy="636.7" r="10.83"/><circle cx="2692.3" cy="636.7" r="10.83"/><circle cx="2764.1" cy="636.7" r="10.83"/><circle cx="2835.9" cy="636.7" r="10.83"/><circle cx="2907.7" cy="636.7" r="10.83"/><circle cx="2979.5" cy="636.7" r="10.83"/><circle cx="3051.3" cy="636.7" r="10.83"/><circle cx="3123.1" cy="636.7" r="10.83"/><circle cx="3194.9" cy="636.7" r="10.83"/><circle cx="3338.5" cy="636.7" r="10.83"/></g>
<g><circle cx="1759.8" cy="700.7" r="10.83"/><circle cx="1857.5" cy="700.7" r="10.83"/><circle cx="1906.4" cy="700.7" r="10.83"/><circle cx="1955.2" cy="700.7" r="10.83"/><circle cx="2004.1" cy="700.7" r="10.83"/><circle cx="2053" cy="700.7" r="10.83"/><circle cx="2101.8" cy="700.7" r="10.83"/><circle cx="2199.5" cy="700.7" r="10.83"/><circle cx="2248.4" cy="700.7" r="10.83"/><circle cx="2297.3" cy="700.7" r="10.83"/><circle cx="2346.1" cy="700.7" r="10.83"/><circle cx="2395" cy="700.7" r="10.83"/><circle cx="2443.8" cy="700.7" r="10.83"/><circle cx="2492.7" cy="700.7" r="10.83"/><circle cx="2541.6" cy="700.7" r="10.83"/><circle cx="2590.4" cy="700.7" r="10.83"/><circle cx="2639.3" cy="700.7" r="10.83"/><circle cx="2688.1" cy="700.7" r="10.83"/><circle cx="2737" cy="700.7" r="10.83"/><circle cx="2785.9" cy="700.7" r="10.83"/><circle cx="2834.7" cy="700.7" r="10.83"/><circle cx="2883.6" cy="700.7" r="10.83"/><circle cx="2932.4" cy="700.7" r="10.83"/><circle cx="2981.3" cy="700.7" r="10.83"/><circle cx="3030.2" cy="700.7" r="10.83"/><circle cx="3127.9" cy="700.7" r="10.83"/><circle cx="3176.7" cy="700.7" r="10.83"/><circle cx="3274.5" cy="700.7" r="10.83"/><circle cx="3421" cy="700.7" r="10.83"/></g>
<g><circle cx="1655" cy="764.7" r="10.83"/><circle cx="1767.9" cy="764.7" r="10.83"/><circle cx="1880.8" cy="764.7" r="10.83"/><circle cx="1937.3" cy="764.7" r="10.83"/><circle cx="1993.8" cy="764.7" r="10.83"/><circle cx="2050.2" cy="764.7" r="10.83"/><circle cx="2106.7" cy="764.7" r="10.83"/><circle cx="2163.1" cy="764.7" r="10.83"/><circle cx="2219.6" cy="764.7" r="10.83"/><circle cx="2276.1" cy="764.7" r="10.83"/><circle cx="2389" cy="764.7" r="10.83"/><circle cx="2445.4" cy="764.7" r="10.83"/><circle cx="2501.9" cy="764.7" r="10.83"/><circle cx="2558.4" cy="764.7" r="10.83"/><circle cx="2614.8" cy="764.7" r="10.83"/><circle cx="2671.3" cy="764.7" r="10.83"/><circle cx="2727.7" cy="764.7" r="10.83"/><circle cx="2784.2" cy="764.7" r="10.83"/><circle cx="2840.7" cy="764.7" r="10.83"/><circle cx="2897.1" cy="764.7" r="10.83"/><circle cx="2953.6" cy="764.7" r="10.83"/><circle cx="3010" cy="764.7" r="10.83"/><circle cx="3066.5" cy="764.7" r="10.83"/><circle cx="3123" cy="764.7" r="10.83"/><circle cx="3348.8" cy="764.7" r="10.83"/></g>
<g></g>
<g><circle cx="1580.5" cy="892.6" r="10.83"/><circle cx="2010.6" cy="892.6" r="10.83"/><circle cx="2871.4" cy="892.6" r="10.83"/><circle cx="3301.6" cy="892.6" r="10.83"/></g>
<g><circle cx="1826.6" cy="956.5" r="10.83"/><circle cx="1887" cy="956.5" r="10.83"/><circle cx="2007.8" cy="956.5" r="10.83"/><circle cx="2128.6" cy="956.5" r="10.83"/><circle cx="2189" cy="956.5" r="10.83"/><circle cx="2309.8" cy="956.5" r="10.83"/><circle cx="2370.2" cy="956.5" r="10.83"/><circle cx="2430.6" cy="956.5" r="10.83"/><circle cx="2491" cy="956.5" r="10.83"/><circle cx="2551.4" cy="956.5" r="10.83"/><circle cx="2611.8" cy="956.5" r="10.83"/><circle cx="2672.2" cy="956.5" r="10.83"/><circle cx="2732.6" cy="956.5" r="10.83"/><circle cx="2853.4" cy="956.5" r="10.83"/><circle cx="2913.8" cy="956.5" r="10.83"/><circle cx="3155.4" cy="956.5" r="10.83"/></g>
<g><circle cx="1660" cy="1020.5" r="10.83"/><circle cx="1784.8" cy="1020.5" r="10.83"/><circle cx="1909.7" cy="1020.5" r="10.83"/><circle cx="2034.5" cy="1020.5" r="10.83"/><circle cx="2284.2" cy="1020.5" r="10.83"/><circle cx="2409.1" cy="1020.5" r="10.83"/><circle cx="2533.9" cy="1020.5" r="10.83"/><circle cx="2658.8" cy="1020.5" r="10.83"/><circle cx="2783.6" cy="1020.5" r="10.83"/><circle cx="2908.4" cy="1020.5" r="10.83"/><circle cx="3033.3" cy="1020.5" r="10.83"/><circle cx="3283" cy="1020.5" r="10.83"/><circle cx="3407.8" cy="1020.5" r="10.83"/></g>
<g><circle cx="2072.4" cy="1084.5" r="10.83"/><circle cx="2173.8" cy="1084.5" r="10.83"/><circle cx="2241.4" cy="1084.5" r="10.83"/><circle cx="2275.2" cy="1084.5" r="10.83"/><circle cx="2309" cy="1084.5" r="10.83"/><circle cx="2342.8" cy="1084.5" r="10.83"/><circle cx="2376.6" cy="1084.5" r="10.83"/><circle cx="2410.4" cy="1084.5" r="10.83"/><circle cx="2444.2" cy="1084.5" r="10.83"/><circle cx="2478" cy="1084.5" r="10.83"/><circle cx="2511.8" cy="1084.5" r="10.83"/><circle cx="2545.6" cy="1084.5" r="10.83"/><circle cx="2579.4" cy="1084.5" r="10.83"/><circle cx="2613.2" cy="1084.5" r="10.83"/><circle cx="2647" cy="1084.5" r="10.83"/><circle cx="2680.8" cy="1084.5" r="10.83"/><circle cx="2714.6" cy="1084.5" r="10.83"/><circle cx="2748.4" cy="1084.5" r="10.83"/><circle cx="2816" cy="1084.5" r="10.83"/><circle cx="2883.6" cy="1084.5" r="10.83"/><circle cx="3018.8" cy="1084.5" r="10.83"/><circle cx="3187.8" cy="1084.5" r="10.83"/></g>
<g><circle cx="1602.5" cy="1148.4" r="10.83"/><circle cx="1734.8" cy="1148.4" r="10.83"/><circle cx="1867.1" cy="1148.4" r="10.83"/><circle cx="1884.7" cy="1148.4" r="10.83"/><circle cx="1902.3" cy="1148.4" r="10.83"/><circle cx="1920" cy="1148.4" r="10.83"/><circle cx="1955.3" cy="1148.4" r="10.83"/><circle cx="1964.1" cy="1148.4" r="10.83"/><circle cx="1981.7" cy="1148.4" r="10.83"/><circle cx="1990.5" cy="1148.4" r="10.83"/><circle cx="1999.4" cy="1148.4" r="10.83"/><circle cx="2008.2" cy="1148.4" r="10.83"/><circle cx="2017" cy="1148.4" r="10.83"/><circle cx="2025.8" cy="1148.4" r="10.83"/><circle cx="2034.6" cy="1148.4" r="10.83"/><circle cx="2043.5" cy="1148.4" r="10.83"/><circle cx="2052.3" cy="1148.4" r="10.83"/><circle cx="2061.1" cy="1148.4" r="10.83"/><circle cx="2069.9" cy="1148.4" r="10.83"/><circle cx="2078.7" cy="1148.4" r="10.83"/><circle cx="2087.6" cy="1148.4" r="10.83"/><circle cx="2096.4" cy="1148.4" r="10.83"/><circle cx="2105.2" cy="1148.4" r="10.83"/><circle cx="2114" cy="1148.4" r="10.83"/><circle cx="2122.8" cy="1148.4" r="10.83"/><circle cx="2131.7" cy="1148.4" r="10.83"/><circle cx="2158.1" cy="1148.4" r="10.83"/><circle cx="2166.9" cy="1148.4" r="10.83"/><circle cx="2175.8" cy="1148.4" r="10.83"/><circle cx="2193.4" cy="1148.4" r="10.83"/><circle cx="2202.2" cy="1148.4" r="10.83"/><circle cx="2211" cy="1148.4" r="10.83"/><circle cx="2219.9" cy="1148.4" r="10.83"/><circle cx="2228.7" cy="1148.4" r="10.83"/><circle cx="2237.5" cy="1148.4" r="10.83"/><circle cx="2246.3" cy="1148.4" r="10.83"/><circle cx="2255.1" cy="1148.4" r="10.83"/><circle cx="2281.6" cy="1148.4" r="10.83"/><circle cx="2290.4" cy="1148.4" r="10.83"/><circle cx="2299.2" cy="1148.4" r="10.83"/><circle cx="2308.1" cy="1148.4" r="10.83"/><circle cx="2316.9" cy="1148.4" r="10.83"/><circle cx="2325.7" cy="1148.4" r="10.83"/><circle cx="2334.5" cy="1148.4" r="10.83"/><circle cx="2343.3" cy="1148.4" r="10.83"/><circle cx="2387.4" cy="1148.4" r="10.83"/><circle cx="2396.3" cy="1148.4" r="10.83"/><circle cx="2405.1" cy="1148.4" r="10.83"/><circle cx="2413.9" cy="1148.4" r="10.83"/><circle cx="2422.7" cy="1148.4" r="10.83"/><circle cx="2431.5" cy="1148.4" r="10.83"/><circle cx="2440.4" cy="1148.4" r="10.83"/><circle cx="2449.2" cy="1148.4" r="10.83"/><circle cx="2458" cy="1148.4" r="10.83"/><circle cx="2466.8" cy="1148.4" r="10.83"/><circle cx="2475.6" cy="1148.4" r="10.83"/><circle cx="2484.5" cy="1148.4" r="10.83"/><circle cx="2493.3" cy="1148.4" r="10.83"/><circle cx="2502.1" cy="1148.4" r="10.83"/><circle cx="2510.9" cy="1148.4" r="10.83"/><circle cx="2519.7" cy="1148.4" r="10.83"/><circle cx="2528.6" cy="1148.4" r="10.83"/><circle cx="2537.4" cy="1148.4" r="10.83"/><circle cx="2546.2" cy="1148.4" r="10.83"/><circle cx="2555" cy="1148.4" r="10.83"/><circle cx="2563.8" cy="1148.4" r="10.83"/><circle cx="2572.7" cy="1148.4" r="10.83"/><circle cx="2581.5" cy="1148.4" r="10.83"/><circle cx="2590.3" cy="1148.4" r="10.83"/><circle cx="2599.1" cy="1148.4" r="10.83"/><circle cx="2607.9" cy="1148.4" r="10.83"/><circle cx="2616.8" cy="1148.4" r="10.83"/><circle cx="2625.6" cy="1148.4" r="10.83"/><circle cx="2634.4" cy="1148.4" r="10.83"/><circle cx="2643.2" cy="1148.4" r="10.83"/><circle cx="2652" cy="1148.4" r="10.83"/><circle cx="2660.9" cy="1148.4" r="10.83"/><circle cx="2669.7" cy="1148.4" r="10.83"/><circle cx="2678.5" cy="1148.4" r="10.83"/><circle cx="2687.3" cy="1148.4" r="10.83"/><circle cx="2696.1" cy="1148.4" r="10.83"/><circle cx="2705" cy="1148.4" r="10.83"/><circle cx="2713.8" cy="1148.4" r="10.83"/><circle cx="2722.6" cy="1148.4" r="10.83"/><circle cx="2731.4" cy="1148.4" r="10.83"/><circle cx="2740.2" cy="1148.4" r="10.83"/><circle cx="2749.1" cy="1148.4" r="10.83"/><circle cx="2757.9" cy="1148.4" r="10.83"/><circle cx="2766.7" cy="1148.4" r="10.83"/><circle cx="2802" cy="1148.4" r="10.83"/><circle cx="2837.3" cy="1148.4" r="10.83"/><circle cx="2907.8" cy="1148.4" r="10.83"/><circle cx="2969.6" cy="1148.4" r="10.83"/></g>
<g><circle cx="1901.6" cy="1212.4" r="10.83"/><circle cx="1955" cy="1212.4" r="10.83"/><circle cx="2008.4" cy="1212.4" r="10.83"/><circle cx="2115.3" cy="1212.4" r="10.83"/><circle cx="2168.7" cy="1212.4" r="10.83"/><circle cx="2222.2" cy="1212.4" r="10.83"/><circle cx="2275.6" cy="1212.4" r="10.83"/><circle cx="2329" cy="1212.4" r="10.83"/><circle cx="2382.4" cy="1212.4" r="10.83"/><circle cx="2435.9" cy="1212.4" r="10.83"/><circle cx="2489.3" cy="1212.4" r="10.83"/><circle cx="2542.7" cy="1212.4" r="10.83"/><circle cx="2596.2" cy="1212.4" r="10.83"/><circle cx="2649.6" cy="1212.4" r="10.83"/><circle cx="2703" cy="1212.4" r="10.83"/><circle cx="2756.5" cy="1212.4" r="10.83"/><circle cx="2809.9" cy="1212.4" r="10.83"/><circle cx="2863.3" cy="1212.4" r="10.83"/><circle cx="2916.7" cy="1212.4" r="10.83"/><circle cx="3023.6" cy="1212.4" r="10.83"/></g>
<g><circle cx="2459" cy="1276.3" r="10.83"/></g>
<g><circle cx="1435.3" cy="1340.3" r="10.83"/><circle cx="1917.8" cy="1340.3" r="10.83"/><circle cx="2882.8" cy="1340.3" r="10.83"/><circle cx="3365.3" cy="1340.3" r="10.83"/></g>
<g><circle cx="1765.8" cy="1404.3" r="10.83"/><circle cx="1941" cy="1404.3" r="10.83"/><circle cx="2291.4" cy="1404.3" r="10.83"/><circle cx="2466.6" cy="1404.3" r="10.83"/><circle cx="2641.8" cy="1404.3" r="10.83"/><circle cx="2817" cy="1404.3" r="10.83"/><circle cx="2992.2" cy="1404.3" r="10.83"/><circle cx="3167.4" cy="1404.3" r="10.83"/></g>
<g></g>
<g><circle cx="1751.2" cy="1532.2" r="10.83"/><circle cx="1842.9" cy="1532.2" r="10.83"/><circle cx="1934.7" cy="1532.2" r="10.83"/><circle cx="1980.5" cy="1532.2" r="10.83"/><circle cx="2026.4" cy="1532.2" r="10.83"/><circle cx="2072.3" cy="1532.2" r="10.83"/><circle cx="2118.1" cy="1532.2" r="10.83"/><circle cx="2164" cy="1532.2" r="10.83"/><circle cx="2255.8" cy="1532.2" r="10.83"/><circle cx="2301.6" cy="1532.2" r="10.83"/><circle cx="2347.5" cy="1532.2" r="10.83"/><circle cx="2393.4" cy="1532.2" r="10.83"/><circle cx="2439.2" cy="1532.2" r="10.83"/><circle cx="2485.1" cy="1532.2" r="10.83"/><circle cx="2531" cy="1532.2" r="10.83"/><circle cx="2576.8" cy="1532.2" r="10.83"/><circle cx="2622.7" cy="1532.2" r="10.83"/><circle cx="2668.6" cy="1532.2" r="10.83"/><circle cx="2714.4" cy="1532.2" r="10.83"/><circle cx="2760.3" cy="1532.2" r="10.83"/><circle cx="2806.2" cy="1532.2" r="10.83"/><circle cx="2852.1" cy="1532.2" r="10.83"/><circle cx="2897.9" cy="1532.2" r="10.83"/><circle cx="2943.8" cy="1532.2" r="10.83"/><circle cx="2989.7" cy="1532.2" r="10.83"/><circle cx="3035.5" cy="1532.2" r="10.83"/><circle cx="3127.3" cy="1532.2" r="10.83"/></g>
<g><circle cx="1744.6" cy="1596.1" r="10.83"/><circle cx="3140.3" cy="1596.1" r="10.83"/></g>
<g><circle cx="1762.8" cy="1660.1" r="10.83"/><circle cx="2222.6" cy="1660.1" r="10.83"/><circle cx="3142.2" cy="1660.1" r="10.83"/></g>
<g><circle cx="1538.2" cy="1724.1" r="10.83"/><circle cx="1686.5" cy="1724.1" r="10.83"/><circle cx="2131.4" cy="1724.1" r="10.83"/><circle cx="2279.7" cy="1724.1" r="10.83"/><circle cx="2428" cy="1724.1" r="10.83"/><circle cx="2576.3" cy="1724.1" r="10.83"/><circle cx="2724.6" cy="1724.1" r="10.83"/><circle cx="2872.9" cy="1724.1" r="10.83"/><circle cx="3021.2" cy="1724.1" r="10.83"/><circle cx="3169.5" cy="1724.1" r="10.83"/><circle cx="3466.1" cy="1724.1" r="10.83"/></g>
<g><circle cx="2459" cy="1788" r="10.83"/></g>
<g><circle cx="1784.4" cy="1852" r="10.83"/><circle cx="3118.4" cy="1852" r="10.83"/></g>
<g><circle cx="1513.8" cy="1915.9" r="10.83"/><circle cx="1770.6" cy="1915.9" r="10.83"/><circle cx="2027.4" cy="1915.9" r="10.83"/><circle cx="2284.2" cy="1915.9" r="10.83"/><circle cx="2541" cy="1915.9" r="10.83"/><circle cx="3054.6" cy="1915.9" r="10.83"/></g>
<g><circle cx="1612.7" cy="1979.9" r="10.83"/><circle cx="2340.1" cy="1979.9" r="10.83"/><circle cx="2703.8" cy="1979.9" r="10.83"/><circle cx="3067.5" cy="1979.9" r="10.83"/><circle cx="3431.2" cy="1979.9" r="10.83"/></g>
<g><circle cx="1664" cy="2043.9" r="10.83"/><circle cx="1826.9" cy="2043.9" r="10.83"/><circle cx="1989.8" cy="2043.9" r="10.83"/><circle cx="2315.6" cy="2043.9" r="10.83"/><circle cx="2478.5" cy="2043.9" r="10.83"/><circle cx="2641.4" cy="2043.9" r="10.83"/><circle cx="2804.3" cy="2043.9" r="10.83"/><circle cx="2967.2" cy="2043.9" r="10.83"/><circle cx="3130.1" cy="2043.9" r="10.83"/></g>
<g><circle cx="1611.9" cy="2107.8" r="10.83"/><circle cx="2088.4" cy="2107.8" r="10.83"/><circle cx="3041.4" cy="2107.8" r="10.83"/></g>
<g><circle cx="2449.8" cy="2171.8" r="10.83"/></g>
<g><circle cx="1931.1" cy="2235.7" r="10.83"/><circle cx="2331.1" cy="2235.7" r="10.83"/><circle cx="2531.1" cy="2235.7" r="10.83"/><circle cx="2731.1" cy="2235.7" r="10.83"/><circle cx="2931.1" cy="2235.7" r="10.83"/><circle cx="3131.1" cy="2235.7" r="10.83"/><circle cx="3331.1" cy="2235.7" r="10.83"/></g>
<g></g>
<g><circle cx="1799" cy="2363.7" r="10.83"/><circle cx="2242" cy="2363.7" r="10.83"/><circle cx="3127.8" cy="2363.7" r="10.83"/></g>
<g><circle cx="1610.6" cy="2427.6" r="10.83"/><circle cx="2543.7" cy="2427.6" r="10.83"/><circle cx="3010" cy="2427.6" r="10.83"/></g>
<g><circle cx="2427.7" cy="2491.6" r="10.83"/><circle cx="2949.2" cy="2491.6" r="10.83"/><circle cx="3472" cy="2491.6" r="10.83"/></g>
<g><circle cx="1556.2" cy="2555.5" r="10.83"/><circle cx="1699.3" cy="2555.5" r="10.83"/><circle cx="1985.4" cy="2555.5" r="10.83"/><circle cx="2056.9" cy="2555.5" r="10.83"/><circle cx="2128.4" cy="2555.5" r="10.83"/><circle cx="2200" cy="2555.5" r="10.83"/><circle cx="2271.5" cy="2555.5" r="10.83"/><circle cx="2343" cy="2555.5" r="10.83"/><circle cx="2414.6" cy="2555.5" r="10.83"/><circle cx="2486.1" cy="2555.5" r="10.83"/><circle cx="2557.6" cy="2555.5" r="10.83"/><circle cx="2629.2" cy="2555.5" r="10.83"/><circle cx="2700.7" cy="2555.5" r="10.83"/><circle cx="2772.2" cy="2555.5" r="10.83"/><circle cx="2843.8" cy="2555.5" r="10.83"/><circle cx="2915.3" cy="2555.5" r="10.83"/><circle cx="2986.8" cy="2555.5" r="10.83"/><circle cx="3058.3" cy="2555.5" r="10.83"/></g>
<g><circle cx="1716.1" cy="2619.5" r="10.83"/><circle cx="2049.8" cy="2619.5" r="10.83"/><circle cx="2716.3" cy="2619.5" r="10.83"/><circle cx="3050.2" cy="2619.5" r="10.83"/></g>
</g>
<g class="q">
<circle cx="2356.5" cy="61.1" r="17.6"/>
<circle cx="2507.1" cy="125.1" r="17.6"/>
<circle cx="2617.8" cy="189" r="17.6"/>
<circle cx="2123.3" cy="253" r="17.6"/>
<circle cx="1969.6" cy="316.9" r="17.6"/>
<circle cx="2039.2" cy="380.9" r="17.6"/>
<circle cx="2404.6" cy="444.9" r="17.6"/>
<circle cx="2065.4" cy="508.8" r="17.6"/>
<circle cx="2171.6" cy="572.8" r="17.6"/>
<circle cx="2117.9" cy="636.7" r="17.6"/>
<circle cx="2150.7" cy="700.7" r="17.6"/>
<circle cx="2332.5" cy="764.7" r="17.6"/>
<circle cx="2436.5" cy="828.6" r="17.6"/>
<circle cx="2441" cy="892.6" r="17.6"/>
<circle cx="1947.4" cy="956.5" r="17.6"/>
<circle cx="2159.4" cy="1020.5" r="17.6"/>
<circle cx="1768.2" cy="1084.5" r="17.6"/>
<circle cx="2369.8" cy="1148.4" r="17.6"/>
<circle cx="2061.9" cy="1212.4" r="17.6"/>
<circle cx="2400.3" cy="1340.3" r="17.6"/>
<circle cx="2116.2" cy="1404.3" r="17.6"/>
<circle cx="2436.8" cy="1468.2" r="17.6"/>
<circle cx="2209.9" cy="1532.2" r="17.6"/>
<circle cx="2442.5" cy="1596.1" r="17.6"/>
<circle cx="2682.4" cy="1660.1" r="17.6"/>
<circle cx="1983.1" cy="1724.1" r="17.6"/>
<circle cx="2451.4" cy="1852" r="17.6"/>
<circle cx="2797.8" cy="1915.9" r="17.6"/>
<circle cx="1976.4" cy="1979.9" r="17.6"/>
<circle cx="2152.7" cy="2043.9" r="17.6"/>
<circle cx="2564.9" cy="2107.8" r="17.6"/>
<circle cx="2131.1" cy="2235.7" r="17.6"/>
<circle cx="2456.5" cy="2299.7" r="17.6"/>
<circle cx="2684.8" cy="2363.7" r="17.6"/>
<circle cx="2077.8" cy="2427.6" r="17.6"/>
<circle cx="1905.6" cy="2491.6" r="17.6"/>
<circle cx="1913.9" cy="2555.5" r="17.6"/>
<circle cx="2383" cy="2619.5" r="17.6"/>
</g>
<line x1="2449.6" y1="23" x2="2449.6" y2="2658.7" stroke="#808080" stroke-width="4.9"/>
<line x1="1937.5" y1="21.5" x2="1937.5" y2="2658.7" stroke="#808080" stroke-width="6.7" stroke-dasharray="4 4"/>
<line x1="2962.5" y1="21.5" x2="2962.5" y2="2658.7" stroke="#808080" stroke-width="6.7" stroke-dasharray="4 4"/>
</g>
<g fill="#000000">
<rect x="1322.1" y="23" width="3.2" height="2635.7"/>
<rect x="3574.3" y="23" width="3.7" height="2635.7"/>
<rect x="1322.1" y="23" width="2255.9" height="2.5"/>
<rect x="1322.1" y="2654.8" width="2255.9" height="3.9"/>
</g>
<g class="tk">
<line x1="1311" y1="61.1" x2="1323" y2="61.1"/>
<line x1="1311" y1="125.1" x2="1323" y2="125.1"/>
<line x1="1311" y1="189" x2="1323" y2="189"/>
<line x1="1311" y1="253" x2="1323" y2="253"/>
<line x1="1311" y1="316.9" x2="1323" y2="316.9"/>
<line x1="1311" y1="380.9" x2="1323" y2="380.9"/>
<line x1="1311" y1="444.9" x2="1323" y2="444.9"/>
<line x1="1311" y1="508.8" x2="1323" y2="508.8"/>
<line x1="1311" y1="572.8" x2="1323" y2="572.8"/>
<line x1="1311" y1="636.7" x2="1323" y2="636.7"/>
<line x1="1311" y1="700.7" x2="1323" y2="700.7"/>
<line x1="1311" y1="764.7" x2="1323" y2="764.7"/>
<line x1="1311" y1="828.6" x2="1323" y2="828.6"/>
<line x1="1311" y1="892.6" x2="1323" y2="892.6"/>
<line x1="1311" y1="956.5" x2="1323" y2="956.5"/>
<line x1="1311" y1="1020.5" x2="1323" y2="1020.5"/>
<line x1="1311" y1="1084.5" x2="1323" y2="1084.5"/>
<line x1="1311" y1="1148.4" x2="1323" y2="1148.4"/>
<line x1="1311" y1="1212.4" x2="1323" y2="1212.4"/>
<line x1="1311" y1="1276.3" x2="1323" y2="1276.3"/>
<line x1="1311" y1="1340.3" x2="1323" y2="1340.3"/>
<line x1="1311" y1="1404.3" x2="1323" y2="1404.3"/>
<line x1="1311" y1="1468.2" x2="1323" y2="1468.2"/>
<line x1="1311" y1="1532.2" x2="1323" y2="1532.2"/>
<line x1="1311" y1="1596.1" x2="1323" y2="1596.1"/>
<line x1="1311" y1="1660.1" x2="1323" y2="1660.1"/>
<line x1="1311" y1="1724.1" x2="1323" y2="1724.1"/>
<line x1="1311" y1="1788" x2="1323" y2="1788"/>
<line x1="1311" y1="1852" x2="1323" y2="1852"/>
<line x1="1311" y1="1915.9" x2="1323" y2="1915.9"/>
<line x1="1311" y1="1979.9" x2="1323" y2="1979.9"/>
<line x1="1311" y1="2043.9" x2="1323" y2="2043.9"/>
<line x1="1311" y1="2107.8" x2="1323" y2="2107.8"/>
<line x1="1311" y1="2171.8" x2="1323" y2="2171.8"/>
<line x1="1311" y1="2235.7" x2="1323" y2="2235.7"/>
<line x1="1311" y1="2299.7" x2="1323" y2="2299.7"/>
<line x1="1311" y1="2363.7" x2="1323" y2="2363.7"/>
<line x1="1311" y1="2427.6" x2="1323" y2="2427.6"/>
<line x1="1311" y1="2491.6" x2="1323" y2="2491.6"/>
<line x1="1311" y1="2555.5" x2="1323" y2="2555.5"/>
<line x1="1311" y1="2619.5" x2="1323" y2="2619.5"/>
<line x1="1425" y1="2657" x2="1425" y2="2669.1"/>
<line x1="1681.2" y1="2657" x2="1681.2" y2="2669.1"/>
<line x1="1937.5" y1="2657" x2="1937.5" y2="2669.1"/>
<line x1="2193.8" y1="2657" x2="2193.8" y2="2669.1"/>
<line x1="2450" y1="2657" x2="2450" y2="2669.1"/>
<line x1="2706.2" y1="2657" x2="2706.2" y2="2669.1"/>
<line x1="2962.5" y1="2657" x2="2962.5" y2="2669.1"/>
<line x1="3218.8" y1="2657" x2="3218.8" y2="2669.1"/>
<line x1="3475" y1="2657" x2="3475" y2="2669.1"/>
</g>
<g>
<text class="xl" x="1425" y="2721">-4</text>
<text class="xl" x="1681.2" y="2721">-3</text>
<text class="xl" x="1937.5" y="2721">-2</text>
<text class="xl" x="2193.8" y="2721">-1</text>
<text class="xl" x="2450" y="2721">0</text>
<text class="xl" x="2706.2" y="2721">1</text>
<text class="xl" x="2962.5" y="2721">2</text>
<text class="xl" x="3218.8" y="2721">3</text>
<text class="xl" x="3475" y="2721">4</text>
</g>
<text class="ti" x="2449.9" y="2798.5">Z-score</text>
<g class="g"><circle cx="2142.5" cy="2918.2" r="10.83"/></g>
<text class="lg" x="2201.6" y="2939.5">Background</text>
<g class="q"><circle cx="2574.5" cy="2918.2" r="17.6"/></g>
<text class="lg" x="2632.0" y="2939.5">Query</text>
</svg></body></html>
